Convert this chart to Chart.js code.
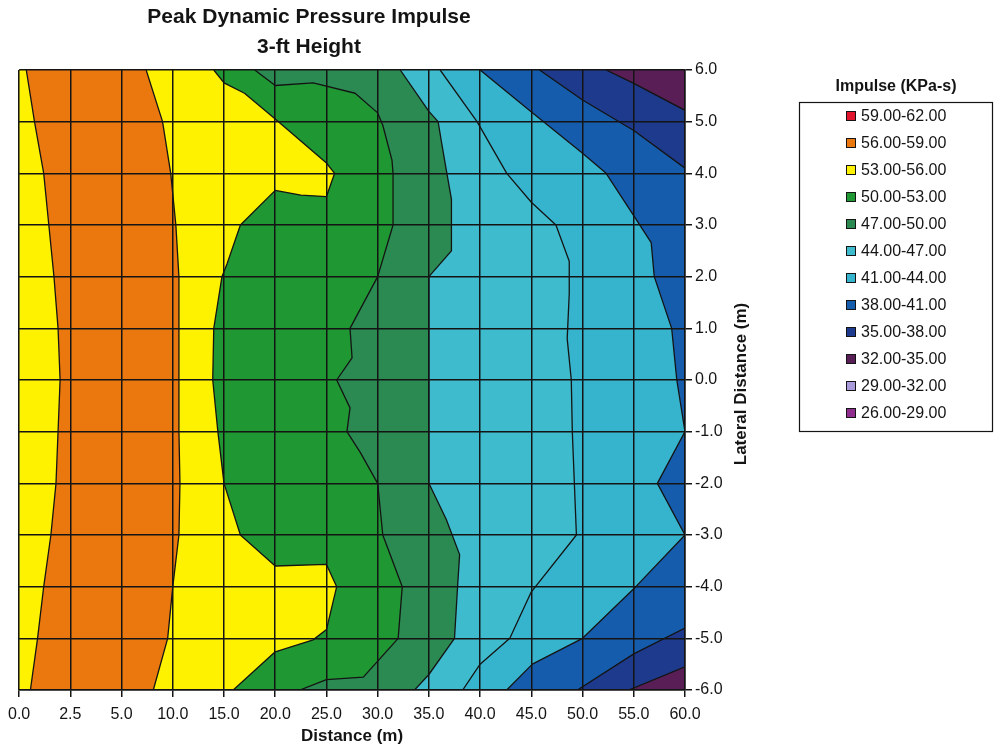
<!DOCTYPE html>
<html>
<head>
<meta charset="utf-8">
<title>Peak Dynamic Pressure Impulse - 3-ft Height</title>
<script src="https://cdn.jsdelivr.net/npm/chart.js@4.4.1/dist/chart.umd.min.js"></script>
<style>
  html, body { margin: 0; padding: 0; background: #fff; }
  #wrap { width: 1000px; height: 753px; }
</style>
</head>
<body>
<div id="wrap"><canvas id="impulseChart" width="1000" height="753"></canvas></div>
<script>
// axis categories (Excel-style contour: evenly spaced categories)
const xTicks = [0, 2.5, 5, 10, 15, 20, 25, 30, 35, 40, 45, 50, 55, 60];
const yTicks = [-6, -5, -4, -3, -2, -1, 0, 1, 2, 3, 4, 5, 6];

// legend bands (lower bound, kPa-s) and their colours
const bandLows = [59, 56, 53, 50, 47, 44, 41, 38, 35, 32, 29, 26];
const bandColors = ['#E0142D', '#EB780F', '#FFF200', '#1F9732', '#2A8A52', '#3EBCCD',
                    '#37B4CD', '#165CAC', '#1E3A8C', '#581E55', '#A99BD9', '#8E2D8E'];

// contour lines: [distance (m), lateral distance (m)], top to bottom
const c56Left  = [[0.35, 6], [0.75, 5], [1.2, 4], [1.45, 3], [1.7, 2], [1.9, 1], [2.0, 0],
                  [1.9, -1], [1.8, -2], [1.55, -3], [1.2, -4], [0.9, -5], [0.55, -6]];
const c56Right = [[7.4, 6], [9.0, 5], [9.8, 4], [10.3, 3], [10.6, 2], [10.6, 1], [10.6, 0],
                  [10.6, -1], [10.7, -2], [10.6, -3], [10.0, -4], [9.5, -5], [8.1, -6]];
const c53 = [[14.0, 6], [15, 5.75], [17.0, 5.55], [20, 5.05], [25, 4.2], [25.8, 4.0], [25, 3.55],
             [22.5, 3.58], [20, 3.67], [16.6, 3.0], [15.3, 2.25], [14.8, 2.0], [14.0, 1.0], [13.9, 0],
             [14.4, -1], [15, -2], [16.6, -3], [20, -3.6], [25, -3.57], [26.0, -4], [25, -4.83],
             [23.7, -5.03], [20, -5.26], [15.9, -6]];
const c50 = [[18.0, 6], [20, 5.7], [23.7, 5.75], [27.8, 5.55], [30, 5.17], [30.5, 4.93], [31.4, 4.25],
             [31.5, 4.0], [31.5, 3.0], [30, 2.0], [27.3, 1.0], [27.5, 0.43], [26.0, 0], [27.3, -0.54],
             [27.0, -1.0], [28.3, -1.4], [30, -2.0], [30.5, -3.0], [32.4, -4.0], [32.0, -5.0],
             [28.6, -5.75], [25, -5.8], [22.4, -6]];
const c47 = [[32.2, 6], [35, 5.2], [35.9, 5.0], [36.2, 4.64], [36.7, 4.06], [37.2, 3.5], [37.2, 2.5],
             [35, 2.0], [35, -2.0], [36.7, -2.7], [38.0, -3.38], [37.8, -4.0], [37.5, -5.0],
             [35, -5.7], [33.6, -6]];
const c44 = [[36.1, 6], [39.7, 5.0], [42.6, 4.0], [45, 3.44], [47.4, 3.0], [48.7, 2.3], [48.7, 1.67],
             [48.5, 0.8], [48.9, 0], [49.0, -1], [49.4, -3], [45, -4.1], [42.9, -5], [40, -5.5],
             [38.3, -6]];
const c41 = [[40, 6], [44.8, 5.22], [50, 4.39], [52.3, 4.0], [54.8, 3.24], [56.7, 2.66], [57.0, 2.0],
             [58.7, 1.0], [59.2, 0], [60, -1], [57.3, -2], [60, -3], [55.2, -4], [50, -5],
             [45.1, -5.5], [42.6, -6]];
const c38 = [[45.8, 6], [50, 5.42], [55, 4.83], [60, 4.1], [60, -4.8], [55, -5.3], [49.5, -6]];
const c35 = [[52.3, 6], [55, 5.74], [60, 5.22], [60, -5.55], [54.5, -6]];

const titleLines = ['Peak Dynamic Pressure Impulse', '3-ft Height'];
const xTitle = 'Distance (m)';
const yTitle = 'Lateral Distance (m)';
const legendTitle = 'Impulse (KPa-s)';

const FONT = '"Liberation Sans", Arial, Helvetica, sans-serif';
const INK = '#141414';

// distance (m) -> position on the evenly spaced category axis
function xPos(d) {
  for (let i = 0; i < xTicks.length - 1; i++) {
    if (d <= xTicks[i + 1]) return i + (d - xTicks[i]) / (xTicks[i + 1] - xTicks[i]);
  }
  return xTicks.length - 1;
}
const toPts = line => line.map(([d, lat]) => ({ x: xPos(d), y: lat }));

const xMax = xTicks.length - 1;
const yMin = yTicks[0];
const yMax = yTicks[yTicks.length - 1];
const leftEdge = [{ x: 0, y: yMin }, { x: 0, y: yMax }];
const colorOf = lo => bandColors[bandLows.indexOf(lo)];

// painted back to front: each region is "value >= level"
const layers = [
  { lo: 32, pts: [{ x: 0, y: yMax }, { x: xMax, y: yMax }, { x: xMax, y: yMin }, { x: 0, y: yMin }] },
  { lo: 35, pts: toPts(c35).concat(leftEdge) },
  { lo: 38, pts: toPts(c38).concat(leftEdge) },
  { lo: 41, pts: toPts(c41).concat(leftEdge) },
  { lo: 44, pts: toPts(c44).concat(leftEdge) },
  { lo: 47, pts: toPts(c47).concat(leftEdge) },
  { lo: 50, pts: toPts(c50).concat(leftEdge) },
  { lo: 53, pts: toPts(c53).concat(leftEdge) },
  { lo: 56, pts: toPts(c56Right).concat(toPts(c56Left).reverse()) }
];

const datasets = layers.map((l, k) => ({
  label: 'fill ' + l.lo,
  data: l.pts,
  showLine: true,
  fill: 'shape',
  backgroundColor: colorOf(l.lo),
  borderWidth: 0,
  pointRadius: 0,
  order: 100 - k
}));

[c35, c38, c41, c44, c47, c50, c53, c56Left, c56Right].forEach(line => {
  datasets.push({
    data: toPts(line),
    showLine: true,
    fill: false,
    borderColor: INK,
    borderWidth: 1.3,
    borderJoinStyle: 'round',
    pointRadius: 0,
    order: 0
  });
});

const pageText = {
  id: 'pageText',
  afterDraw(chart) {
    const { ctx } = chart;
    ctx.save();
    ctx.fillStyle = INK;
    ctx.textAlign = 'center';
    ctx.textBaseline = 'middle';
    ctx.font = 'bold 21px ' + FONT;
    titleLines.forEach((t, i) => ctx.fillText(t, 309, 17 + i * 30));

    // rotated y title, reading bottom to top
    ctx.save();
    ctx.translate(741, 384);
    ctx.rotate(-Math.PI / 2);
    ctx.font = 'bold 17px ' + FONT;
    ctx.fillText(yTitle, 0, 0);
    ctx.restore();

    // legend
    ctx.font = 'bold 16px ' + FONT;
    ctx.fillText(legendTitle, 896, 87);
    ctx.strokeStyle = INK;
    ctx.lineWidth = 1.2;
    ctx.strokeRect(799.5, 102.5, 193, 329);
    ctx.textAlign = 'left';
    ctx.font = '16px ' + FONT;
    bandLows.forEach((lo, i) => {
      const y = 116 + i * 27;
      ctx.fillStyle = bandColors[i];
      ctx.fillRect(846, y - 5, 10, 10);
      ctx.lineWidth = 1;
      ctx.strokeRect(846.5, y - 4.5, 9, 9);
      ctx.fillStyle = INK;
      ctx.fillText(lo.toFixed(2) + '-' + (lo + 3).toFixed(2), 861, y + 1);
    });
    ctx.restore();
  }
};

Chart.defaults.font.family = FONT;
Chart.defaults.color = INK;

new Chart(document.getElementById('impulseChart'), {
  type: 'scatter',
  data: { datasets },
  options: {
    responsive: false,
    animation: false,
    events: [],
    layout: { padding: { top: 70, left: 14, right: 250, bottom: 0 } },
    plugins: {
      legend: { display: false },
      tooltip: { enabled: false },
      title: { display: false }
    },
    scales: {
      x: {
        type: 'linear',
        min: 0,
        max: xMax,
        afterBuildTicks: s => { s.ticks = xTicks.map((_, i) => ({ value: i })); },
        afterFit: s => { s.height = 63; },
        ticks: {
          autoSkip: false,
          maxRotation: 0,
          padding: 8,
          z: 1,
          font: { size: 16 },
          callback: v => xTicks[v].toFixed(1)
        },
        grid: { color: INK, lineWidth: 1.5, tickLength: 7, z: 1 },
        border: { color: INK, width: 1.5, z: 1 },
        title: { display: true, text: xTitle, font: { size: 17, weight: 'bold' }, padding: { top: 0, bottom: 6 } }
      },
      y: {
        type: 'linear',
        position: 'right',
        min: yMin,
        max: yMax,
        afterBuildTicks: s => { s.ticks = yTicks.map(v => ({ value: v })); },
        afterFit: s => { s.width = 65; },
        ticks: {
          autoSkip: false,
          padding: 3,
          z: 1,
          font: { size: 16 },
          callback: v => Number(v).toFixed(1)
        },
        grid: { color: INK, lineWidth: 1.5, tickLength: 7, z: 1 },
        border: { color: INK, width: 1.5, z: 1 }
      }
    }
  },
  plugins: [pageText]
});
</script>
</body>
</html>
